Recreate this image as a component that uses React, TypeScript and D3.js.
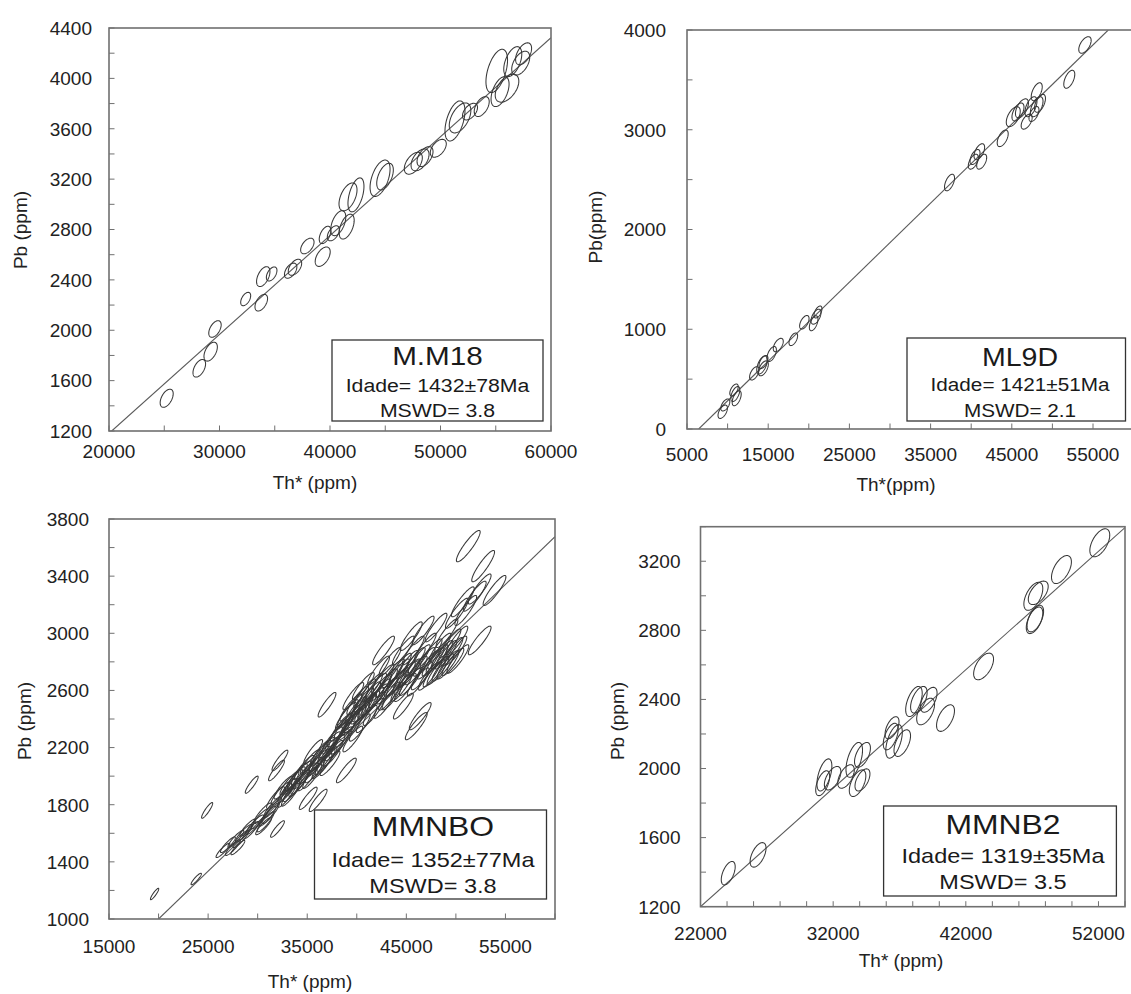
import React from "react";
import * as d3 from "d3";

// ---------- DATA ----------
// each ellipse: [Th* centre, Pb centre, Th* half-extent, Pb half-extent]
type Ell = [number, number, number, number];

const mm18Ellipses: Ell[] = [
  [25220, 1460, 590, 72], [28170, 1698, 570, 70], [29200, 1830, 606, 75], [29590, 2010, 561, 66],
  [32370, 2248, 452, 53], [33780, 2219, 570, 66], [33960, 2426, 606, 79], [34720, 2447, 480, 56],
  [36440, 2473, 561, 60], [36830, 2500, 606, 64], [37950, 2669, 606, 62], [39340, 2584, 679, 77],
  [39550, 2757, 525, 69], [40300, 2770, 543, 60], [40750, 2850, 679, 99], [41510, 2823, 679, 99],
  [41630, 3059, 815, 111], [42350, 3075, 724, 135], [44530, 3207, 905, 145], [44980, 3220, 751, 106],
  [47540, 3326, 815, 87], [48150, 3353, 815, 87], [48600, 3379, 724, 79], [49800, 3445, 724, 71],
  [51310, 3662, 905, 159], [51770, 3686, 977, 119], [52670, 3736, 679, 66], [53730, 3776, 679, 79],
  [55090, 4059, 977, 172], [55390, 3895, 815, 119], [56020, 3922, 1068, 111], [56540, 4133, 815, 119],
  [57260, 4121, 815, 95], [57520, 4195, 724, 87],
];

const ml9dEllipses: Ell[] = [
  [9400, 173, 580, 67], [9720, 241, 554, 60], [10790, 391, 520, 60], [10950, 351, 554, 75],
  [11120, 308, 554, 75], [13290, 558, 580, 67], [14240, 642, 650, 90], [14400, 608, 615, 75],
  [14420, 672, 554, 65], [15430, 752, 580, 75], [16240, 842, 615, 67], [18090, 899, 530, 63],
  [19450, 1070, 580, 68], [20600, 1060, 530, 75], [20890, 1126, 615, 75], [21130, 1173, 490, 60],
  [37330, 2471, 616, 83], [40260, 2680, 616, 75], [40470, 2727, 616, 75], [41000, 2780, 653, 80],
  [41290, 2680, 616, 75], [43880, 2914, 677, 83], [45180, 3131, 860, 100], [45760, 3178, 740, 90],
  [46250, 3215, 800, 95], [46830, 3081, 677, 75], [47360, 3231, 740, 100], [47730, 3158, 616, 75],
  [48070, 3381, 677, 90], [48070, 3231, 776, 100], [48470, 3265, 677, 90], [52080, 3506, 677, 90],
  [54010, 3850, 763, 83],
];

const mmnboEllipses: Ell[] = [
  [19600, 1175, 420, 40], [23800, 1280, 520, 40], [24900, 1760, 560, 55], [26500, 1480, 700, 50],
  [27000, 1520, 750, 55], [27800, 1560, 800, 60], [28000, 1500, 700, 50], [28600, 1600, 850, 62],
  [29000, 1640, 800, 60], [29400, 1940, 650, 60], [29700, 1660, 900, 68], [30200, 1700, 850, 68],
  [30600, 1650, 800, 60], [30500, 1740, 900, 72], [31000, 1720, 850, 70], [31500, 1780, 900, 72],
  [31900, 2040, 800, 72], [32250, 2110, 800, 72], [32000, 1630, 700, 58], [31800, 1850, 900, 76],
  [32300, 1880, 950, 78], [32600, 1920, 950, 80], [32900, 1860, 900, 78], [33200, 1950, 950, 82],
  [33500, 1900, 900, 78], [33800, 1980, 1000, 85], [34100, 1940, 950, 82], [34400, 2020, 1000, 85],
  [34700, 2060, 1000, 85], [35000, 1980, 950, 82], [35100, 1845, 900, 78], [36100, 1830, 900, 78],
  [35300, 2100, 1000, 86], [35600, 2170, 950, 86], [35800, 2040, 1000, 86], [36200, 2120, 1000, 90],
  [36500, 2070, 1000, 86], [36700, 2180, 1050, 90], [37000, 2500, 900, 86], [37000, 2120, 1000, 86],
  [37300, 2220, 1050, 90], [37600, 2160, 1000, 90], [37900, 2280, 1050, 95], [38200, 2220, 1000, 90],
  [38400, 2340, 1050, 95], [38700, 2290, 1050, 95], [38900, 2420, 1050, 95], [39200, 2350, 1050, 95],
  [39400, 2480, 1100, 95], [39600, 2260, 1000, 90], [39800, 2400, 1100, 95], [40100, 2530, 1100, 100],
  [40300, 2340, 1050, 95], [40500, 2460, 1100, 95], [40800, 2580, 1100, 100], [41000, 2400, 1050, 95],
  [41200, 2500, 1100, 95], [41500, 2620, 1100, 100], [41700, 2450, 1050, 95], [42000, 2550, 1100, 95],
  [42200, 2740, 1100, 100], [42700, 2880, 1100, 100], [42400, 2620, 1100, 95], [42800, 2500, 1050, 95],
  [43100, 2600, 1100, 95], [43400, 2680, 1100, 100], [43600, 2560, 1050, 95], [43900, 2650, 1100, 95],
  [44200, 2720, 1100, 100], [44500, 2620, 1050, 95], [44700, 2490, 1000, 90], [44800, 2700, 1100, 100],
  [45100, 2780, 1100, 100], [45400, 2660, 1100, 95], [45500, 2980, 1100, 100], [45700, 2880, 1100, 100],
  [46000, 2350, 1100, 95], [46400, 2420, 1100, 95], [46000, 2740, 1100, 100], [46300, 2820, 1100, 100],
  [46700, 3020, 1100, 100], [46600, 2700, 1100, 95], [46900, 2900, 1100, 100], [47200, 2780, 1100, 100],
  [47500, 2860, 1100, 100], [47800, 2720, 1100, 95], [48000, 3040, 1100, 100], [48100, 2820, 1100, 100],
  [48400, 2900, 1100, 100], [48700, 2760, 1100, 95], [49000, 2850, 1100, 100], [49100, 3000, 1100, 100],
  [49400, 2930, 1100, 100], [49700, 2800, 1100, 95], [50000, 2880, 1100, 100], [50100, 2950, 1100, 100],
  [50100, 3140, 1150, 105], [50700, 3220, 1150, 105], [51250, 3610, 1200, 110], [51900, 3260, 1150, 105],
  [52400, 3310, 1150, 105], [52750, 3470, 1150, 110], [53900, 3300, 1150, 105], [52400, 2950, 1150, 100],
  [51000, 3160, 1100, 105], [38950, 2040, 1000, 86], [37300, 2090, 1000, 86], [39650, 2560, 1050, 95],
  [40660, 2630, 1100, 95], [43350, 2800, 1100, 100], [44700, 2880, 1100, 100],
  [33000, 1900, 950, 85], [33300, 1870, 900, 80], [33600, 1960, 950, 85], [34000, 2000, 1000, 88],
  [34300, 1960, 950, 85], [34600, 2000, 1000, 88], [35200, 2040, 1000, 90], [35500, 2000, 950, 86],
  [36000, 2090, 1000, 90], [36300, 2160, 1000, 90], [36800, 2100, 1000, 90], [37100, 2180, 1050, 92],
  [37500, 2250, 1050, 95], [37800, 2200, 1000, 92], [38100, 2300, 1050, 95], [38500, 2250, 1050, 95],
  [38800, 2360, 1050, 95], [39100, 2440, 1050, 95], [39500, 2380, 1050, 95], [39900, 2460, 1100, 98],
  [40200, 2420, 1100, 98], [40600, 2520, 1100, 98], [40900, 2480, 1100, 98], [41300, 2560, 1100, 100],
  [41600, 2520, 1100, 98], [41900, 2620, 1100, 100], [42300, 2580, 1100, 100], [42600, 2680, 1100, 100],
  [43000, 2650, 1100, 100], [43300, 2560, 1100, 98], [43700, 2720, 1100, 100], [44100, 2660, 1100, 100],
  [44400, 2760, 1100, 100], [44900, 2620, 1100, 98], [45300, 2720, 1100, 100], [45800, 2800, 1100, 100],
  [46200, 2660, 1100, 98], [46800, 2800, 1100, 100], [47300, 2700, 1100, 98], [47700, 2800, 1100, 100],
  [48200, 2740, 1100, 100], [48600, 2850, 1100, 100], [49200, 2780, 1100, 100], [49600, 2870, 1100, 100],
  [50200, 2820, 1100, 100], [30800, 1680, 850, 70], [31300, 1740, 880, 72], [29300, 1620, 820, 62],
  [28300, 1560, 800, 60], [27500, 1500, 750, 55],
];

const mmnb2Ellipses: Ell[] = [
  [24090, 1394, 525, 68], [26340, 1500, 600, 71], [31210, 1915, 525, 72], [31340, 1963, 563, 93],
  [31960, 1944, 623, 68], [32970, 1954, 623, 68], [33590, 2050, 623, 101], [34210, 2079, 600, 72],
  [33840, 1915, 623, 77], [34210, 1934, 563, 64], [36340, 2185, 563, 77], [36590, 2157, 623, 97],
  [37210, 2147, 623, 77], [36440, 2236, 525, 64], [38090, 2388, 623, 87], [38460, 2398, 623, 77],
  [38970, 2330, 675, 77], [39210, 2398, 623, 72], [40470, 2292, 675, 77], [43340, 2591, 750, 77],
  [47090, 2997, 713, 81], [47460, 3017, 750, 68], [47180, 2858, 623, 77], [47240, 2868, 623, 77],
  [49210, 3152, 750, 81], [52100, 3307, 750, 81],
];

// error correlation of each sample
const mm18Rho = 0.5;
const ml9dRho = 0.55;
const mmnboRho = 0.9;
const mmnb2Rho = 0.55;

// isochron lines: two end points [Th*, Pb]
const mm18Fit = [[20244, 1200], [60000, 4323]];
const ml9dFit = [[6440, 0], [56880, 4000]];
const mmnboFit = [[20000, 1000], [60000, 3676]];
const mmnb2Fit = [[22000, 1200], [54000, 3395]];

// tick labels
const mm18XLabels = [20000, 30000, 40000, 50000, 60000];
const mm18YLabels = [1200, 1600, 2000, 2400, 2800, 3200, 3600, 4000, 4400];
const ml9dXLabels = [5000, 15000, 25000, 35000, 45000, 55000];
const ml9dYLabels = [0, 1000, 2000, 3000, 4000];
const mmnboXLabels = [15000, 25000, 35000, 45000, 55000];
const mmnboYLabels = [1000, 1400, 1800, 2200, 2600, 3000, 3400, 3800];
const mmnb2XLabels = [22000, 32000, 42000, 52000];
const mmnb2YLabels = [1200, 1600, 2000, 2400, 2800, 3200];

// legend texts
const mm18Text = ["M.M18", "Idade= 1432±78Ma", "MSWD= 3.8"];
const ml9dText = ["ML9D", "Idade= 1421±51Ma", "MSWD= 2.1"];
const mmnboText = ["MMNBO", "Idade= 1352±77Ma", "MSWD= 3.8"];
const mmnb2Text = ["MMNB2", "Idade= 1319±35Ma", "MSWD= 3.5"];

// ---------- LAYOUT ----------
const FONT = '"Liberation Sans", Arial, Helvetica, sans-serif';

const panels = [
  {
    id: "p1", ell: mm18Ellipses, rho: mm18Rho, fit: mm18Fit, text: mm18Text,
    xd: [20000, 60000], xr: [109, 551], yd: [1200, 4400], yr: [431, 28],
    xStep: 5000, yStep: 200, xLabels: mm18XLabels, yLabels: mm18YLabels,
    xLabY: 458, yLabGap: 17, xTitle: "Th* (ppm)", xTitleX: 315, xTitleY: 489,
    yTitle: "Pb (ppm)", yTitleX: 20, yTitleY: 230,
    box: [332, 340, 543, 421], tx: 437.5, tys: [365, 392, 417], tfs: [26.5, 19],
  },
  {
    id: "p2", ell: ml9dEllipses, rho: ml9dRho, fit: ml9dFit, text: ml9dText,
    xd: [5000, 60000], xr: [687, 1133.6], yd: [0, 4000], yr: [429, 30],
    xStep: 5000, yStep: 500, xLabels: ml9dXLabels, yLabels: ml9dYLabels,
    xLabY: 461, yLabGap: 21, xTitle: "Th*(ppm)", xTitleX: 896, xTitleY: 491,
    yTitle: "Pb(ppm)", yTitleX: 595, yTitleY: 227,
    box: [907, 338, 1125.5, 421], tx: 1020, tys: [366, 391, 417], tfs: [25.5, 18.5],
  },
  {
    id: "p3", ell: mmnboEllipses, rho: mmnboRho, fit: mmnboFit, text: mmnboText,
    xd: [15000, 60000], xr: [109, 555], yd: [1000, 3800], yr: [919, 519],
    xStep: 5000, yStep: 200, xLabels: mmnboXLabels, yLabels: mmnboYLabels,
    xLabY: 953, yLabGap: 20, xTitle: "Th* (ppm)", xTitleX: 310, xTitleY: 988,
    yTitle: "Pb (ppm)", yTitleX: 24.5, yTitleY: 721,
    box: [314.5, 810, 546.5, 899], tx: 433, tys: [836, 866.7, 893.3], tfs: [28.5, 21],
  },
  {
    id: "p4", ell: mmnb2Ellipses, rho: mmnb2Rho, fit: mmnb2Fit, text: mmnb2Text,
    xd: [22000, 54000], xr: [700.5, 1125], yd: [1200, 3400], yr: [906.7, 526.7],
    xStep: 2000, yStep: 200, xLabels: mmnb2XLabels, yLabels: mmnb2YLabels,
    xLabY: 940, yLabGap: 20, xTitle: "Th* (ppm)", xTitleX: 901, xTitleY: 967,
    yTitle: "Pb (ppm)", yTitleX: 617, yTitleY: 721,
    box: [883.6, 806, 1116.4, 896], tx: 1003, tys: [833.5, 862.7, 889.3], tfs: [28.5, 21],
  },
];

const line = d3.line().curve(d3.curveLinearClosed);

function ellipsePath(e: Ell, rho: number, xs: any, ys: any) {
  const [cx, cy, sx, sy] = e;
  const q = Math.sqrt(1 - rho * rho);
  const pts = d3.range(0, 90).map((i) => {
    const t = (i / 90) * 2 * Math.PI;
    return [xs(cx + sx * Math.cos(t)), ys(cy + sy * (rho * Math.cos(t) + q * Math.sin(t)))] as [number, number];
  });
  return line(pts) as string;
}

function Panel({ p }: { p: any }) {
  const xs = d3.scaleLinear().domain(p.xd).range(p.xr);
  const ys = d3.scaleLinear().domain(p.yd).range(p.yr);
  const [x0, x1] = p.xr;
  const [y0, y1] = [p.yr[1], p.yr[0]];
  const xt = d3.range(p.xd[0], p.xd[1] + 1, p.xStep);
  const yt = d3.range(p.yd[0], p.yd[1] + 1, p.yStep);
  const tick = 5.5;
  const axisCol = "#707070";
  return (
    <g>
      <defs>
        <clipPath id={"clip-" + p.id}>
          <rect x={x0} y={y0} width={x1 - x0} height={y1 - y0} />
        </clipPath>
      </defs>
      <g clipPath={`url(#clip-${p.id})`}>
        <line
          x1={xs(p.fit[0][0])} y1={ys(p.fit[0][1])} x2={xs(p.fit[1][0])} y2={ys(p.fit[1][1])}
          stroke="#5a5a5a" strokeWidth={1.1}
        />
        {p.ell.map((e: Ell, i: number) => (
          <path key={i} d={ellipsePath(e, p.rho, xs, ys)} fill="none" stroke="#383838" strokeWidth={1.05} />
        ))}
      </g>
      {xt.map((v: number) => (
        <line key={"xt" + v} x1={xs(v)} x2={xs(v)} y1={y1} y2={y1 - tick} stroke={axisCol} strokeWidth={1} />
      ))}
      {yt.map((v: number) => (
        <line key={"yt" + v} x1={x0} x2={x0 + tick} y1={ys(v)} y2={ys(v)} stroke={axisCol} strokeWidth={1} />
      ))}
      <rect x={x0} y={y0} width={x1 - x0} height={y1 - y0} fill="none" stroke={axisCol} strokeWidth={1.6} />
      {p.xLabels.map((v: number) => (
        <text key={"xl" + v} x={xs(v)} y={p.xLabY} textAnchor="middle" fontSize={19} fill="#222" fontFamily={FONT}>
          {v}
        </text>
      ))}
      {p.yLabels.map((v: number) => (
        <text key={"yl" + v} x={x0 - p.yLabGap} y={ys(v)} dy="0.36em" textAnchor="end" fontSize={19} fill="#222" fontFamily={FONT}>
          {v}
        </text>
      ))}
      <text x={p.xTitleX} y={p.xTitleY} textAnchor="middle" fontSize={19} fill="#222" fontFamily={FONT}>
        {p.xTitle}
      </text>
      <text
        transform={`translate(${p.yTitleX},${p.yTitleY}) rotate(-90)`}
        dy="0.35em" textAnchor="middle" fontSize={19} fill="#222" fontFamily={FONT}
      >
        {p.yTitle}
      </text>
      <rect
        x={p.box[0]} y={p.box[1]} width={p.box[2] - p.box[0]} height={p.box[3] - p.box[1]}
        fill="#fff" stroke="#333" strokeWidth={1.3}
      />
      {p.text.map((s: string, i: number) => (
        <text
          key={"t" + i}
          transform={`translate(${p.tx},${p.tys[i]}) scale(1.12,1)`}
          textAnchor="middle" fontSize={i === 0 ? p.tfs[0] : p.tfs[1]} fill="#1a1a1a" fontFamily={FONT}
        >
          {s}
        </text>
      ))}
    </g>
  );
}

export default function App() {
  return (
    <svg
      width={1131}
      height={994}
      viewBox="0 0 1131 994"
      style={{ position: "absolute", left: 0, top: 0, background: "#fff", display: "block" }}
    >
      <rect x={0} y={0} width={1131} height={994} fill="#fff" />
      {panels.map((p) => (
        <Panel key={p.id} p={p} />
      ))}
    </svg>
  );
}
